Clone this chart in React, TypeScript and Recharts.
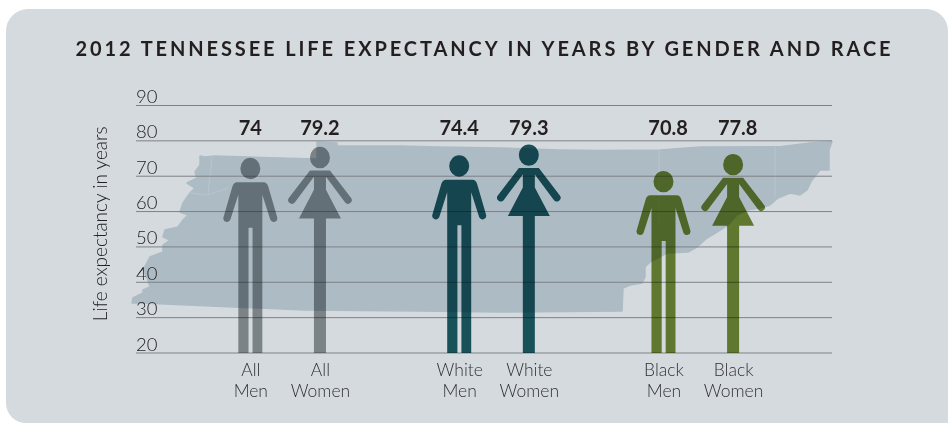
import { Bar, BarChart, CartesianGrid, LabelList, XAxis, YAxis } from "recharts";

const figureNames = ["All Men", "All Women", " ", "White Men", "White Women", "  ", "Black Men", "Black Women"];
// printed above each figure
const printedValues = [74, 79.2, null, 74.4, 79.3, null, 70.8, 77.8];
// where the head actually reaches on the axis
const figureReach = [75.2, 78.3, null, 75.9, 79.0, null, 71.5, 76.3];
const figureColors = ["#93999b", "#93999b", "", "#1e5e66", "#1e5e66", "", "#728b35", "#728b35"];
const yTicks = [20, 30, 40, 50, 60, 70, 80, 90];

const data = figureNames.map((name, i) => ({
  name,
  printed: printedValues[i],
  reach: figureReach[i],
  color: figureColors[i],
}));

const FONT = "Lato, sans-serif";
const INK = "#313134";

const PANEL = "M6 31 A22 22 0 0 1 28 9 L926 9 A22 22 0 0 1 948 31 L948 423 L26 423 A20 20 0 0 1 6 403 Z";

// state outline, only a backdrop
const TENNESSEE =
  "M200 156 L205 157 L215 156 L317 159 L317 142 L337 143 L337 146 L400 146 L440 147 L500 148 L560 150 L600 150.6 L660 150 L700 147 L780 146.7 L810 143 L832 141.7 L829 150 L829 170 L820 170 L812 180 L807 190 L800 195 L790 193 L778 198 L770 205 L760 208 L747 210 L737 215 L728 225 L717 232 L707 238 L697 247 L688 252 L667 253 L650 262 L645 267 L645 277 L642 283 L630 285 L623 288 L622 311 L500 312 L420 311 L305 310 L142 303 L132 303 L133 298 L143 293 L143 290 L150 287 L148 280 L143 270 L150 257 L163 252 L163 245 L170 240 L163 237 L165 230 L178 227 L183 220 L188 215 L180 212 L183 203 L190 193 L195 188 L187 183 L197 178 L195 172 L200 165 Z";
const COUNTY_LINES = "M659 151 L659 222 M775 147 L775 196 M190 193 L208 195 L228 188 M212 157 L208 195";

const head = (cx: number, cy: number) =>
  `M${cx - 10} ${cy} A10 10.7 0 1 1 ${cx + 10} ${cy} A10 10.7 0 1 1 ${cx - 10} ${cy} Z`;

function manPath(c: number, y: number, h: number) {
  const p = (dx: number, dy: number) => `${c + dx} ${y + dy}`;
  return (
    head(c, y + 10.7) +
    `M${p(-12, h)} L${p(-12, 37)} L${p(-20, 62)} A3.7 3.7 0 0 1 ${p(-27, 60)} L${p(-18, 29)} Q${p(-17, 24.3)} ${p(-13, 24.3)}` +
    ` L${p(13, 24.3)} Q${p(17, 24.3)} ${p(18, 29)} L${p(27, 60)} A3.7 3.7 0 0 1 ${p(20, 62)} L${p(12, 37)} L${p(12, h)} L${p(2.2, h)} L${p(2.2, 70)} L${p(-1.8, 70)} L${p(-1.8, h)} Z`
  );
}

function womanPath(c: number, y: number, h: number) {
  const p = (dx: number, dy: number) => `${c + dx} ${y + dy}`;
  return (
    head(c, y + 10.7) +
    `M${p(-10, 23.7)} L${p(-31, 51)} A3.7 3.7 0 0 0 ${p(-25, 55.5)} L${p(-6, 30)} L${p(-6, 43)} L${p(-21, 71.7)} L${p(-6, 71.7)} L${p(-6, h)}` +
    ` L${p(6, h)} L${p(6, 71.7)} L${p(21, 71.7)} L${p(6, 43)} L${p(6, 30)} L${p(25, 55.5)} A3.7 3.7 0 0 0 ${p(31, 51)} L${p(10, 23.7)} Z`
  );
}

// the black group sits slightly closer to the white one than the slots allow
const nudgeFor = (name: string) => (name.startsWith("Black") ? -4.6 : 0);

function Figure(props: any) {
  const { x, y, width, height, payload } = props;
  if (!payload || payload.reach == null) return null;
  const c = x + width / 2 + nudgeFor(payload.name);
  const d = payload.name.endsWith("Women") ? womanPath(c, y, height) : manPath(c, y, height);
  return <path d={d} fill={payload.color} style={{ mixBlendMode: "multiply" }} />;
}

function PrintedValue(props: any) {
  const { x, width, value, index } = props;
  if (value == null) return null;
  return (
    <text
      x={x + width / 2 + nudgeFor(figureNames[index])}
      y={135}
      textAnchor="middle"
      fontFamily={FONT}
      fontWeight={700}
      fontSize={20}
      fill="#231f20"
    >
      {value}
    </text>
  );
}

function FigureTick(props: any) {
  const { x, payload } = props;
  const parts = String(payload.value).trim().split(" ");
  if (!parts[0]) return null;
  const cx = x + nudgeFor(String(payload.value));
  return (
    <text textAnchor="middle" fontFamily={FONT} fontWeight={300} fontSize={17.5} fill={INK}>
      <tspan x={cx} y={376}>{parts[0]}</tspan>
      <tspan x={cx} y={397}>{parts[1]}</tspan>
    </text>
  );
}

function ValueTick(props: any) {
  const { y, payload } = props;
  return (
    <text x={136} y={y - 2.5} fontFamily={FONT} fontWeight={300} fontSize={18.5} fill="#222225">
      {payload.value}
    </text>
  );
}

function AxisTitle(props: any) {
  const { viewBox } = props;
  const cy = viewBox.y + viewBox.height / 2;
  return (
    <text
      transform={`translate(107 ${cy - 5.5}) rotate(-90)`}
      textAnchor="middle"
      fontFamily={FONT}
      fontWeight={300}
      fontSize={19}
      fill="#222225"
    >
      Life expectancy in years
    </text>
  );
}

export default function App() {
  return (
    <div style={{ position: "absolute", left: 0, top: 0, width: 948, height: 423 }}>
      <BarChart
        width={948}
        height={423}
        data={data}
        margin={{ top: 105.5, right: 116, bottom: 69, left: 135 }}
        barSize={70}
      >
        <path d={PANEL} fill="#d5dade" />
        <path d={TENNESSEE} fill="#adbbc4" stroke="#adbbc4" strokeWidth={1.5} strokeLinejoin="round" />
        <path d={COUNTY_LINES} fill="none" stroke="#bcc8cf" strokeWidth={0.8} />
        <text
          x={484.5}
          y={56}
          textAnchor="middle"
          fontFamily={FONT}
          fontWeight={700}
          fontSize={20}
          letterSpacing={2.9}
          fill="#231f20"
        >
          2012 TENNESSEE LIFE EXPECTANCY IN YEARS BY GENDER AND RACE
        </text>
        <CartesianGrid zIndex={0} horizontal vertical={false} stroke="#7d8286" strokeWidth={1} />
        <XAxis
          dataKey="name"
          height={1}
          axisLine={false}
          tickLine={false}
          interval={0}
          padding={{ left: 80, right: 59 }}
          tick={<FigureTick />}
        />
        <YAxis
          width={1}
          domain={[20, 90]}
          ticks={yTicks}
          axisLine={false}
          tickLine={false}
          tick={<ValueTick />}
          label={<AxisTitle />}
        />
        <Bar dataKey="reach" shape={<Figure />} isAnimationActive={false}>
          <LabelList dataKey="printed" content={<PrintedValue />} />
        </Bar>
      </BarChart>
    </div>
  );
}
